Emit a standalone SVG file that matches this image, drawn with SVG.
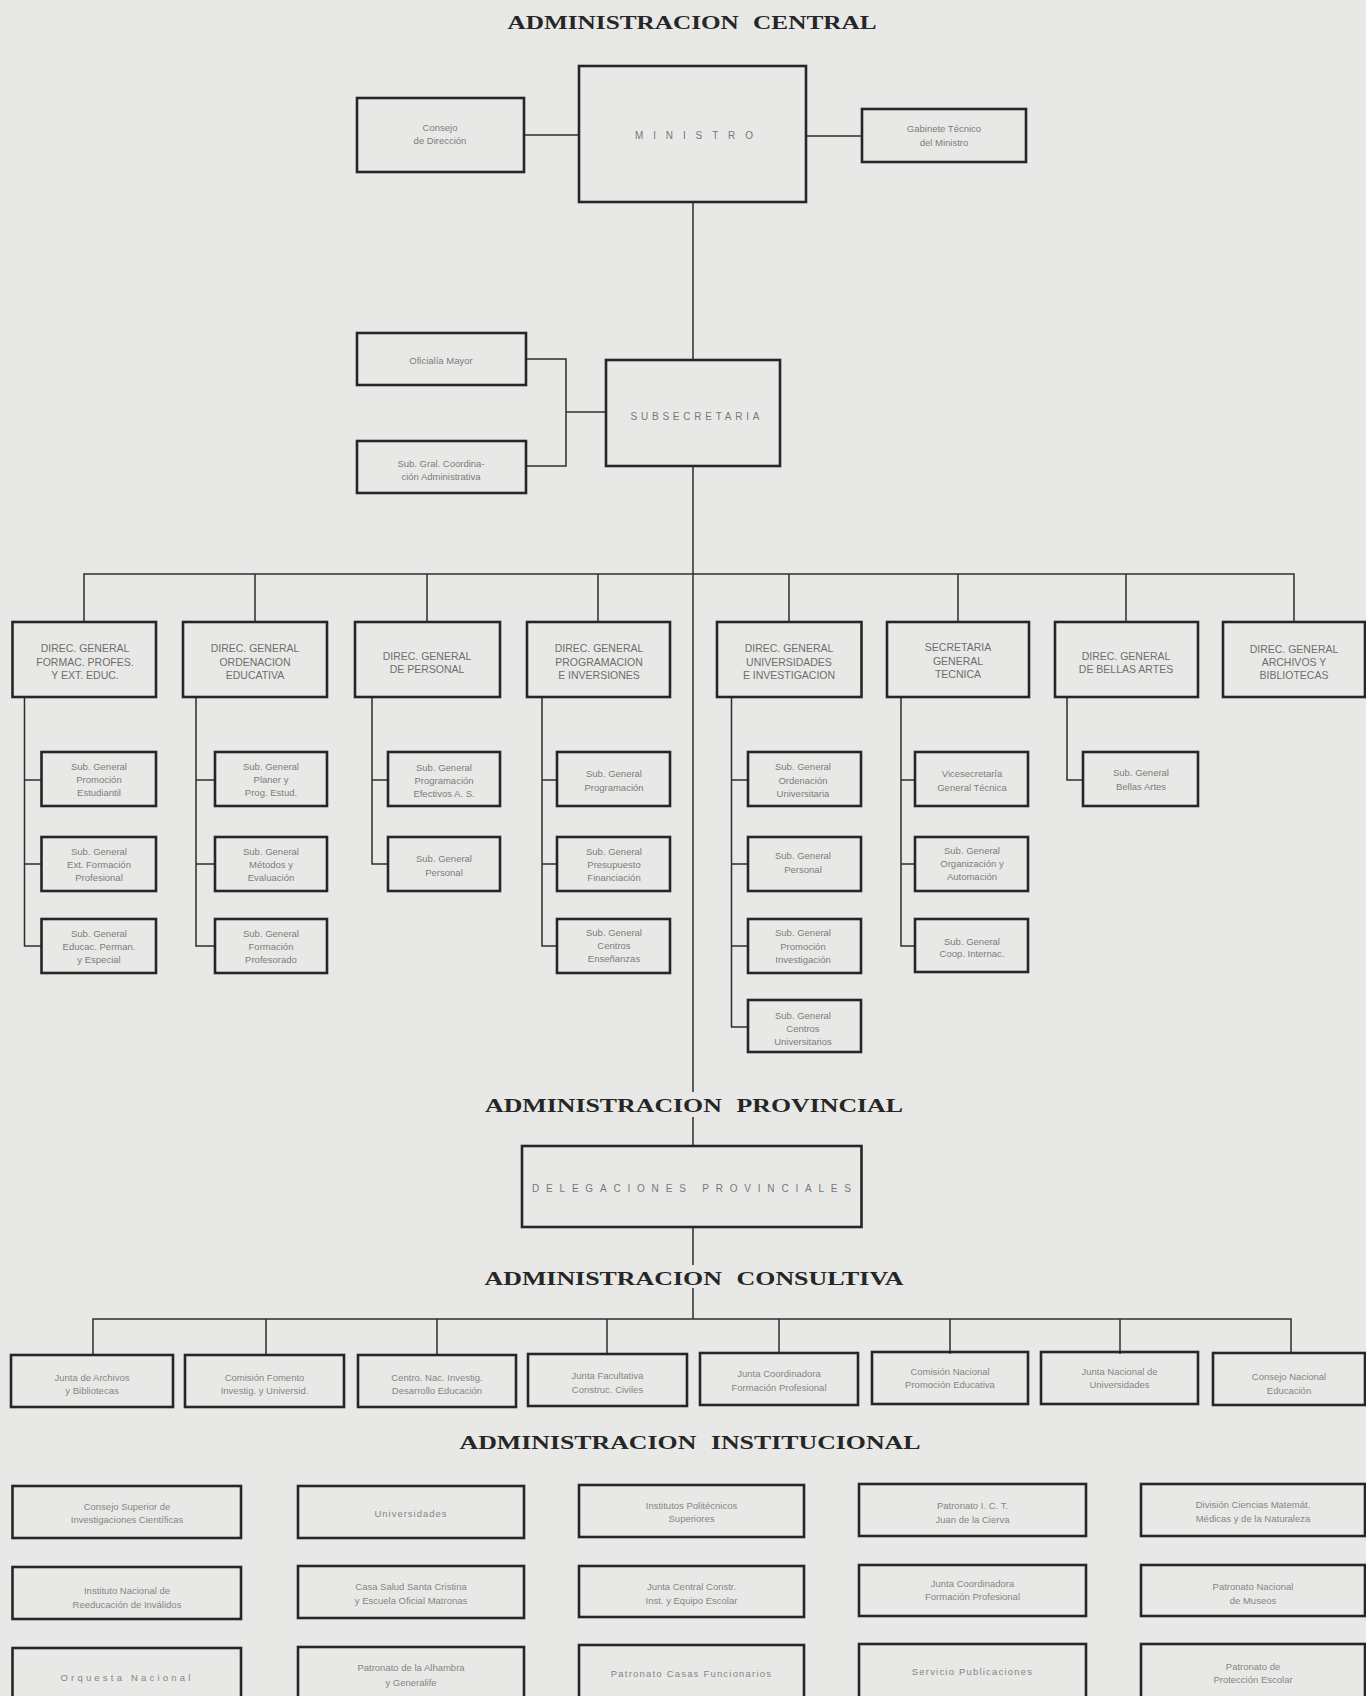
<svg xmlns="http://www.w3.org/2000/svg" width="1366" height="1696" viewBox="0 0 1366 1696">
<style>
.bg{fill:#e8e9e6}
.bx{fill:none;stroke:#262626;stroke-width:2.6}
.ln{fill:none;stroke:#2e2e2e;stroke-width:1.5}
.tt{font-family:"Liberation Serif","DejaVu Serif",serif;font-size:19px;font-weight:bold;fill:#262626;text-anchor:middle;word-spacing:6px}
.d{font-family:"Liberation Sans","DejaVu Sans",sans-serif;font-size:10.5px;fill:#6e6e6e;text-anchor:middle;dominant-baseline:central}
.s{font-family:"Liberation Sans","DejaVu Sans",sans-serif;font-size:9.5px;fill:#7c7c7c;text-anchor:middle;dominant-baseline:central}
.c{font-family:"Liberation Sans","DejaVu Sans",sans-serif;font-size:9.5px;fill:#858585;text-anchor:middle;dominant-baseline:central}
.sp{font-family:"Liberation Sans","DejaVu Sans",sans-serif;font-size:10px;fill:#777;text-anchor:middle;dominant-baseline:central}
</style>
<rect class="bg" x="0" y="0" width="1366" height="1696"/>

<text class="tt" x="692" y="29" textLength="369" lengthAdjust="spacingAndGlyphs">ADMINISTRACION CENTRAL</text>
<text class="tt" x="694" y="1112" textLength="418" lengthAdjust="spacingAndGlyphs">ADMINISTRACION PROVINCIAL</text>
<text class="tt" x="694" y="1285" textLength="419" lengthAdjust="spacingAndGlyphs">ADMINISTRACION CONSULTIVA</text>
<text class="tt" x="690" y="1449" textLength="461" lengthAdjust="spacingAndGlyphs">ADMINISTRACION INSTITUCIONAL</text>

<g id="connectors">
<path class="ln" d="M524,135H579M806,136H862"/>
<path class="ln" d="M693,202V360M693,466V1092M693,1117V1146M693,1227V1265M693,1288V1319"/>
<path class="ln" d="M526,359H566V466H526M566,412H606"/>
<path class="ln" d="M84,622V574H1294V622M255,574V622M427,574V622M598,574V622M789,574V622M958,574V622M1126,574V622"/>
<path class="ln" d="M24.5,697V946H41.5M24.5,780H41.5M24.5,864H41.5"/>
<path class="ln" d="M196,697V946H215M196,780H215M196,864H215"/>
<path class="ln" d="M372,697V864H388M372,780H388"/>
<path class="ln" d="M542,697V946H557M542,780H557M542,864H557"/>
<path class="ln" d="M731.5,697V1027H748M731.5,780H748M731.5,864H748M731.5,946H748"/>
<path class="ln" d="M901,697V946H915M901,780H915M901,864H915"/>
<path class="ln" d="M1067,697V780H1083"/>
<path class="ln" d="M93,1354V1319H1291V1354M266,1319V1354M437,1319V1354M607,1319V1354M779,1319V1354M950,1319V1354M1120,1319V1354"/>
</g>

<g id="ministro"><rect class="bx" x="579" y="66" width="227" height="136"/><text class="sp" x="694" y="135" textLength="118" lengthAdjust="spacing">MINISTRO</text></g>
<g id="consejo-direccion"><rect class="bx" x="357" y="98" width="167" height="74"/><text class="s"><tspan x="440" y="127">Consejo</tspan><tspan x="440" y="140">de Dirección</tspan></text></g>
<g id="gabinete"><rect class="bx" x="862" y="109" width="164" height="53"/><text class="s"><tspan x="944" y="128">Gabinete Técnico</tspan><tspan x="944" y="142">del Ministro</tspan></text></g>

<g id="oficialia"><rect class="bx" x="357" y="333" width="169" height="52"/><text class="s" x="441" y="360">Oficialía Mayor</text></g>
<g id="subsecretaria"><rect class="bx" x="606" y="360" width="174" height="106"/><text class="sp" x="695" y="416" textLength="129" lengthAdjust="spacing">SUBSECRETARIA</text></g>
<g id="coordinacion"><rect class="bx" x="357" y="441" width="169" height="52"/><text class="s"><tspan x="441" y="463">Sub. Gral. Coordina-</tspan><tspan x="441" y="476">ción Administrativa</tspan></text></g>

<g id="dg1"><rect class="bx" x="12.5" y="622" width="143.5" height="75"/><text class="d"><tspan x="85" y="648">DIREC. GENERAL</tspan><tspan x="85" y="662">FORMAC. PROFES.</tspan><tspan x="85" y="675">Y EXT. EDUC.</tspan></text></g>
<g id="dg2"><rect class="bx" x="183" y="622" width="144" height="75"/><text class="d"><tspan x="255" y="648">DIREC. GENERAL</tspan><tspan x="255" y="662">ORDENACION</tspan><tspan x="255" y="675">EDUCATIVA</tspan></text></g>
<g id="dg3"><rect class="bx" x="355" y="622" width="145" height="75"/><text class="d"><tspan x="427" y="656">DIREC. GENERAL</tspan><tspan x="427" y="669">DE PERSONAL</tspan></text></g>
<g id="dg4"><rect class="bx" x="527" y="622" width="143" height="75"/><text class="d"><tspan x="599" y="648">DIREC. GENERAL</tspan><tspan x="599" y="662">PROGRAMACION</tspan><tspan x="599" y="675">E INVERSIONES</tspan></text></g>
<g id="dg5"><rect class="bx" x="717" y="622" width="144.5" height="75"/><text class="d"><tspan x="789" y="648">DIREC. GENERAL</tspan><tspan x="789" y="662">UNIVERSIDADES</tspan><tspan x="789" y="675">E INVESTIGACION</tspan></text></g>
<g id="dg6"><rect class="bx" x="887" y="622" width="142" height="75"/><text class="d"><tspan x="958" y="647">SECRETARIA</tspan><tspan x="958" y="661">GENERAL</tspan><tspan x="958" y="674">TECNICA</tspan></text></g>
<g id="dg7"><rect class="bx" x="1055" y="622" width="143" height="75"/><text class="d"><tspan x="1126" y="656">DIREC. GENERAL</tspan><tspan x="1126" y="669">DE BELLAS ARTES</tspan></text></g>
<g id="dg8"><rect class="bx" x="1223" y="622" width="142" height="75"/><text class="d"><tspan x="1294" y="649">DIREC. GENERAL</tspan><tspan x="1294" y="662">ARCHIVOS Y</tspan><tspan x="1294" y="675">BIBLIOTECAS</tspan></text></g>

<g id="sg1a"><rect class="bx" x="41.5" y="752" width="114.5" height="54"/><text class="s"><tspan x="99" y="766">Sub. General</tspan><tspan x="99" y="779">Promoción</tspan><tspan x="99" y="792">Estudiantil</tspan></text></g>
<g id="sg1b"><rect class="bx" x="41.5" y="837" width="114.5" height="54"/><text class="s"><tspan x="99" y="851">Sub. General</tspan><tspan x="99" y="864">Ext. Formación</tspan><tspan x="99" y="877">Profesional</tspan></text></g>
<g id="sg1c"><rect class="bx" x="41.5" y="919" width="114.5" height="54"/><text class="s"><tspan x="99" y="933">Sub. General</tspan><tspan x="99" y="946">Educac. Perman.</tspan><tspan x="99" y="959">y Especial</tspan></text></g>

<g id="sg2a"><rect class="bx" x="215" y="752" width="112" height="54"/><text class="s"><tspan x="271" y="766">Sub. General</tspan><tspan x="271" y="779">Planer y</tspan><tspan x="271" y="792">Prog. Estud.</tspan></text></g>
<g id="sg2b"><rect class="bx" x="215" y="837" width="112" height="54"/><text class="s"><tspan x="271" y="851">Sub. General</tspan><tspan x="271" y="864">Métodos y</tspan><tspan x="271" y="877">Evaluación</tspan></text></g>
<g id="sg2c"><rect class="bx" x="215" y="919" width="112" height="54"/><text class="s"><tspan x="271" y="933">Sub. General</tspan><tspan x="271" y="946">Formación</tspan><tspan x="271" y="959">Profesorado</tspan></text></g>

<g id="sg3a"><rect class="bx" x="388" y="752" width="112" height="54"/><text class="s"><tspan x="444" y="767">Sub. General</tspan><tspan x="444" y="780">Programación</tspan><tspan x="444" y="793">Efectivos A. S.</tspan></text></g>
<g id="sg3b"><rect class="bx" x="388" y="837" width="112" height="54"/><text class="s"><tspan x="444" y="858">Sub. General</tspan><tspan x="444" y="872">Personal</tspan></text></g>

<g id="sg4a"><rect class="bx" x="557" y="752" width="113" height="54"/><text class="s"><tspan x="614" y="773">Sub. General</tspan><tspan x="614" y="787">Programación</tspan></text></g>
<g id="sg4b"><rect class="bx" x="557" y="837" width="113" height="54"/><text class="s"><tspan x="614" y="851">Sub. General</tspan><tspan x="614" y="864">Presupuesto</tspan><tspan x="614" y="877">Financiación</tspan></text></g>
<g id="sg4c"><rect class="bx" x="557" y="919" width="113" height="54"/><text class="s"><tspan x="614" y="932">Sub. General</tspan><tspan x="614" y="945">Centros</tspan><tspan x="614" y="958">Enseñanzas</tspan></text></g>

<g id="sg5a"><rect class="bx" x="748" y="752" width="113" height="54"/><text class="s"><tspan x="803" y="766">Sub. General</tspan><tspan x="803" y="780">Ordenación</tspan><tspan x="803" y="793">Universitaria</tspan></text></g>
<g id="sg5b"><rect class="bx" x="748" y="837" width="113" height="54"/><text class="s"><tspan x="803" y="855">Sub. General</tspan><tspan x="803" y="869">Personal</tspan></text></g>
<g id="sg5c"><rect class="bx" x="748" y="919" width="113" height="54"/><text class="s"><tspan x="803" y="932">Sub. General</tspan><tspan x="803" y="946">Promoción</tspan><tspan x="803" y="959">Investigación</tspan></text></g>
<g id="sg5d"><rect class="bx" x="748" y="1000" width="113" height="52"/><text class="s"><tspan x="803" y="1015">Sub. General</tspan><tspan x="803" y="1028">Centros</tspan><tspan x="803" y="1041">Universitarios</tspan></text></g>

<g id="sg6a"><rect class="bx" x="915" y="752" width="113" height="54"/><text class="s"><tspan x="972" y="773">Vicesecretaría</tspan><tspan x="972" y="787">General Técnica</tspan></text></g>
<g id="sg6b"><rect class="bx" x="915" y="837" width="113" height="54"/><text class="s"><tspan x="972" y="850">Sub. General</tspan><tspan x="972" y="863">Organización y</tspan><tspan x="972" y="876">Automación</tspan></text></g>
<g id="sg6c"><rect class="bx" x="915" y="919" width="113" height="53"/><text class="s"><tspan x="972" y="941">Sub. General</tspan><tspan x="972" y="953">Coop. Internac.</tspan></text></g>

<g id="sg7a"><rect class="bx" x="1083" y="752" width="115" height="54"/><text class="s"><tspan x="1141" y="772">Sub. General</tspan><tspan x="1141" y="786">Bellas Artes</tspan></text></g>

<g id="delegaciones"><rect class="bx" x="522" y="1146" width="339.5" height="81"/><text class="sp" x="691.5" y="1188" textLength="319" lengthAdjust="spacing">DELEGACIONES PROVINCIALES</text></g>

<g id="cons1"><rect class="bx" x="11" y="1355" width="162" height="52"/><text class="c"><tspan x="92" y="1377">Junta de Archivos</tspan><tspan x="92" y="1390">y Bibliotecas</tspan></text></g>
<g id="cons2"><rect class="bx" x="185" y="1355" width="159" height="52"/><text class="c"><tspan x="264.5" y="1377">Comisión Fomento</tspan><tspan x="264.5" y="1390">Investig. y Universid.</tspan></text></g>
<g id="cons3"><rect class="bx" x="358" y="1355" width="158" height="52"/><text class="c"><tspan x="437" y="1377">Centro. Nac. Investig.</tspan><tspan x="437" y="1390">Desarrollo Educación</tspan></text></g>
<g id="cons4"><rect class="bx" x="528" y="1354" width="159" height="52"/><text class="c"><tspan x="607.5" y="1375">Junta Facultativa</tspan><tspan x="607.5" y="1389">Construc. Civiles</tspan></text></g>
<g id="cons5"><rect class="bx" x="700" y="1353" width="158" height="52"/><text class="c"><tspan x="779" y="1373">Junta Coordinadora</tspan><tspan x="779" y="1387">Formación Profesional</tspan></text></g>
<g id="cons6"><rect class="bx" x="872" y="1352" width="156" height="52"/><text class="c"><tspan x="950" y="1371">Comisión Nacional</tspan><tspan x="950" y="1384">Promoción Educativa</tspan></text></g>
<g id="cons7"><rect class="bx" x="1041" y="1352" width="157" height="52"/><text class="c"><tspan x="1119.5" y="1371">Junta Nacional de</tspan><tspan x="1119.5" y="1384">Universidades</tspan></text></g>
<g id="cons8"><rect class="bx" x="1213" y="1353" width="152" height="52"/><text class="c"><tspan x="1289" y="1376">Consejo Nacional</tspan><tspan x="1289" y="1390">Educación</tspan></text></g>

<g id="inst1"><rect class="bx" x="12.5" y="1486" width="228.5" height="52"/><text class="c"><tspan x="127" y="1506">Consejo Superior de</tspan><tspan x="127" y="1519">Investigaciones Científicas</tspan></text></g>
<g id="inst2"><rect class="bx" x="298" y="1486" width="226" height="52"/><text class="c" x="411" y="1513" letter-spacing="1">Universidades</text></g>
<g id="inst3"><rect class="bx" x="579" y="1485" width="225" height="52"/><text class="c"><tspan x="691.5" y="1505">Institutos Politécnicos</tspan><tspan x="691.5" y="1518">Superiores</tspan></text></g>
<g id="inst4"><rect class="bx" x="859" y="1484" width="227" height="52"/><text class="c"><tspan x="972.5" y="1505">Patronato I. C. T.</tspan><tspan x="972.5" y="1519">Juan de la Cierva</tspan></text></g>
<g id="inst5"><rect class="bx" x="1141" y="1484" width="224" height="52"/><text class="c"><tspan x="1253" y="1504">División Ciencias Matemát.</tspan><tspan x="1253" y="1518">Médicas y de la Naturaleza</tspan></text></g>

<g id="inst6"><rect class="bx" x="12.5" y="1567" width="228.5" height="52"/><text class="c"><tspan x="127" y="1590">Instituto Nacional de</tspan><tspan x="127" y="1604">Reeducación de Inválidos</tspan></text></g>
<g id="inst7"><rect class="bx" x="298" y="1566" width="226" height="52"/><text class="c"><tspan x="411" y="1586">Casa Salud Santa Cristina</tspan><tspan x="411" y="1600">y Escuela Oficial Matronas</tspan></text></g>
<g id="inst8"><rect class="bx" x="579" y="1566" width="225" height="51"/><text class="c"><tspan x="691.5" y="1586">Junta Central Constr.</tspan><tspan x="691.5" y="1600">Inst. y Equipo Escolar</tspan></text></g>
<g id="inst9"><rect class="bx" x="859" y="1565" width="227" height="51"/><text class="c"><tspan x="972.5" y="1583">Junta Coordinadora</tspan><tspan x="972.5" y="1596">Formación Profesional</tspan></text></g>
<g id="inst10"><rect class="bx" x="1141" y="1565" width="224" height="51"/><text class="c"><tspan x="1253" y="1586">Patronato Nacional</tspan><tspan x="1253" y="1600">de Museos</tspan></text></g>

<g id="inst11"><rect class="bx" x="12.5" y="1648" width="228.5" height="60"/><text class="c" x="127" y="1677" letter-spacing="3.2">Orquesta Nacional</text></g>
<g id="inst12"><rect class="bx" x="298" y="1647" width="226" height="60"/><text class="c"><tspan x="411" y="1667">Patronato de la Alhambra</tspan><tspan x="411" y="1682">y Generalife</tspan></text></g>
<g id="inst13"><rect class="bx" x="579" y="1645" width="225" height="60"/><text class="c" x="691.5" y="1673" letter-spacing="1.2">Patronato  Casas  Funcionarios</text></g>
<g id="inst14"><rect class="bx" x="859" y="1644" width="227" height="60"/><text class="c" x="972.5" y="1671" letter-spacing="1.2">Servicio  Publicaciones</text></g>
<g id="inst15"><rect class="bx" x="1141" y="1644" width="224" height="60"/><text class="c"><tspan x="1253" y="1666">Patronato de</tspan><tspan x="1253" y="1679">Protección Escolar</tspan></text></g>
</svg>
